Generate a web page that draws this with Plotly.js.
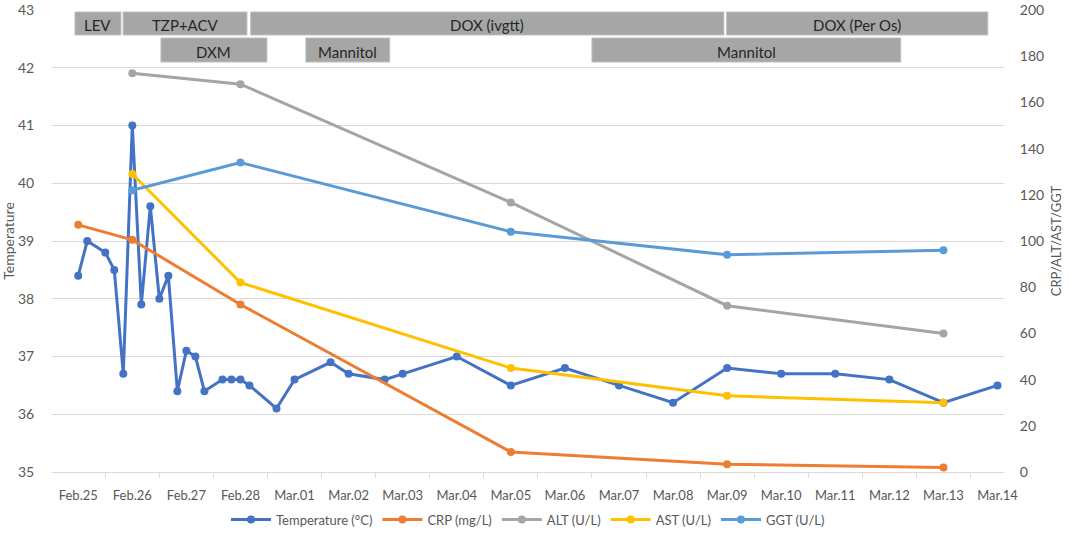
<!DOCTYPE html>
<html>
<head>
<meta charset="utf-8">
<script src="https://cdn.plot.ly/plotly-3.0.1.min.js"></script>
<style>html,body{margin:0;padding:0;background:#fff;}#chart{width:1084px;height:533px;}</style>
</head>
<body>
<div id="chart"></div>
<script>
// ---- data ----
const dayLabels = ['Feb.25','Feb.26','Feb.27','Feb.28','Mar.01','Mar.02','Mar.03','Mar.04','Mar.05','Mar.06','Mar.07','Mar.08','Mar.09','Mar.10','Mar.11','Mar.12','Mar.13','Mar.14'];
const dayIndex = [0,1,2,3,4,5,6,7,8,9,10,11,12,13,14,15,16,17];

// temperature readings: hours after Feb.25 00:00
const tempHours = [0,4,12,16,20,24,28,32,36,40,44,48,52,56,64,68,72,76,88,96,112,120,136,144,168,192,216,240,264,288,312,336,360,384,408];
const tempValues = [38.4,39.0,38.8,38.5,36.7,41.0,37.9,39.6,38.0,38.4,36.4,37.1,37.0,36.4,36.6,36.6,36.6,36.5,36.1,36.6,36.9,36.7,36.6,36.7,37.0,36.5,36.8,36.5,36.2,36.8,36.7,36.7,36.6,36.2,36.5];

const crpDays = [0,1,3,8,12,16];
const crpValues = [107,100.5,72.5,8.7,3.4,2.0];
const labDays = [1,3,8,12,16];
const altValues = [172.6,167.9,116.7,72,60];
const astValues = [129,82,45,33,30];
const ggtValues = [122,134,104,94,96];

// treatments: name, start day, end day, row
const treatNames = ['LEV','TZP+ACV','DOX (ivgtt)','DOX (Per Os)','DXM','Mannitol','Mannitol'];
const treatStart = [-0.06,0.83,3.19,11.99,1.53,4.21,9.50];
const treatEnd   = [0.79,3.12,11.94,16.82,3.49,5.76,15.21];
const treatRow   = [0,0,0,0,1,1,1];

// ---- chart ----
const FONT = 'Lato, "Open Sans", sans-serif';
const TXT = '#595959';
const tempX = tempHours.map(h => h / 24);

function lineTrace(name, x, y, color, axis) {
  return {
    type: 'scatter', mode: 'lines+markers', name: name, x: x, y: y, yaxis: axis,
    line: {color: color, width: 3},
    marker: {color: color, size: 8},
    hoverinfo: 'x+y'
  };
}

const traces = [
  lineTrace('Temperature (°C)', tempX, tempValues, '#4472C4', 'y'),
  lineTrace('CRP (mg/L)', crpDays, crpValues, '#ED7D31', 'y2'),
  lineTrace('ALT (U/L)', labDays, altValues, '#A5A5A5', 'y2'),
  lineTrace('AST (U/L)', labDays, astValues, '#FFC000', 'y2'),
  lineTrace('GGT (U/L)', labDays, ggtValues, '#5B9BD5', 'y2')
];

const rowY = [[0.9459, 0.9957], [0.8874, 0.9394]];
const shapes = [];
const annotations = [];
treatNames.forEach((n, i) => {
  const r = rowY[treatRow[i]];
  shapes.push({
    type: 'rect', xref: 'x', yref: 'paper',
    x0: treatStart[i], x1: treatEnd[i], y0: r[0], y1: r[1],
    fillcolor: '#A6A6A6', line: {color: '#bfbfbf', width: 1}, layer: 'above'
  });
  annotations.push({
    xref: 'x', yref: 'paper', x: (treatStart[i] + treatEnd[i]) / 2, y: (r[0] + r[1]) / 2 - 0.004,
    text: n, showarrow: false, font: {family: FONT, size: 15, color: '#262626'},
    xanchor: 'center', yanchor: 'middle'
  });
});

const layout = {
  width: 1084, height: 533,
  margin: {l: 52, r: 80, t: 10, b: 61, autoexpand: false},
  paper_bgcolor: '#ffffff', plot_bgcolor: '#ffffff',
  font: {family: FONT, size: 13, color: TXT},
  showlegend: true,
  legend: {orientation: 'h', x: 0.5, xanchor: 'center', y: -0.103, yanchor: 'middle',
           font: {family: FONT, size: 13, color: TXT}, itemwidth: 40, tracegroupgap: 0},
  xaxis: {
    range: [-0.485, 17.12], tickmode: 'array', tickvals: dayIndex, ticktext: dayLabels,
    showgrid: false, zeroline: false, showline: true, linecolor: '#d9d9d9', linewidth: 1,
    ticks: 'outside', ticklen: 11, tickcolor: 'rgba(0,0,0,0)', automargin: false,
    minor: {ticks: 'outside', tickmode: 'linear', tick0: 0.5, dtick: 1, ticklen: 5, tickcolor: '#d9d9d9', showgrid: false},
    tickfont: {family: FONT, size: 13, color: TXT}
  },
  yaxis: {
    range: [35, 43], dtick: 1, showgrid: true, gridcolor: '#d9d9d9', gridwidth: 1,
    zeroline: false, showline: false, automargin: false, ticklabeloverflow: 'allow',
    ticks: 'outside', ticklen: 14, tickcolor: 'rgba(0,0,0,0)',
    tickfont: {family: FONT, size: 14, color: TXT},
    title: {text: 'Temperature', font: {family: FONT, size: 14, color: TXT}, standoff: 4}
  },
  yaxis2: {
    range: [0, 200], dtick: 20, overlaying: 'y', side: 'right', showgrid: false,
    zeroline: false, showline: false, automargin: false, ticklabeloverflow: 'allow',
    ticks: 'outside', ticklen: 12, tickcolor: 'rgba(0,0,0,0)',
    tickfont: {family: FONT, size: 14, color: TXT},
    title: {text: 'CRP/ALT/AST/GGT', font: {family: FONT, size: 13, color: TXT}, standoff: 8}
  },
  shapes: shapes,
  annotations: annotations
};

Plotly.newPlot('chart', traces, layout, {displayModeBar: false, staticPlot: true});
</script>
</body>
</html>
